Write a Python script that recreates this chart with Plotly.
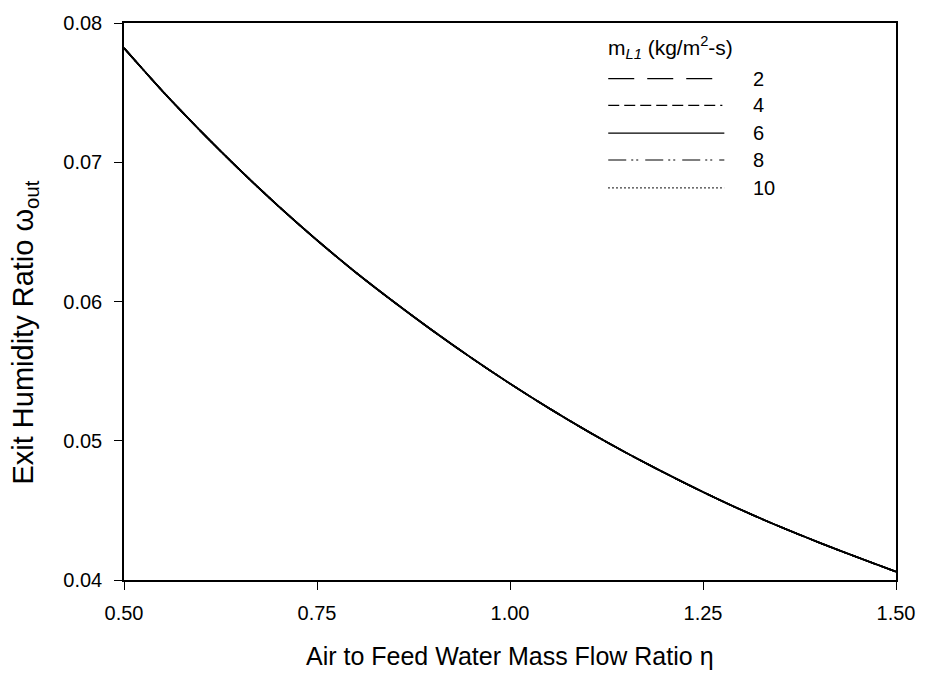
import plotly.graph_objects as go

# ---- data ----
eta = [0.50, 0.55, 0.60, 0.65, 0.70, 0.75, 0.80, 0.85, 0.90, 0.95, 1.00,
       1.05, 1.10, 1.15, 1.20, 1.25, 1.30, 1.35, 1.40, 1.45, 1.50]

omega_m2 = [0.07820, 0.07510, 0.07220, 0.06945, 0.06685, 0.06440, 0.06210, 0.05995, 0.05790, 0.05595, 0.05410,
            0.05235, 0.05070, 0.04915, 0.04770, 0.04632, 0.04502, 0.04382, 0.04270, 0.04163, 0.04060]
omega_m4 = [0.07820, 0.07510, 0.07220, 0.06945, 0.06685, 0.06440, 0.06210, 0.05995, 0.05790, 0.05595, 0.05410,
            0.05235, 0.05070, 0.04915, 0.04770, 0.04632, 0.04502, 0.04382, 0.04270, 0.04163, 0.04060]
omega_m6 = [0.07820, 0.07510, 0.07220, 0.06945, 0.06685, 0.06440, 0.06210, 0.05995, 0.05790, 0.05595, 0.05410,
            0.05235, 0.05070, 0.04915, 0.04770, 0.04632, 0.04502, 0.04382, 0.04270, 0.04163, 0.04060]
omega_m8 = [0.07820, 0.07510, 0.07220, 0.06945, 0.06685, 0.06440, 0.06210, 0.05995, 0.05790, 0.05595, 0.05410,
            0.05235, 0.05070, 0.04915, 0.04770, 0.04632, 0.04502, 0.04382, 0.04270, 0.04163, 0.04060]
omega_m10 = [0.07820, 0.07510, 0.07220, 0.06945, 0.06685, 0.06440, 0.06210, 0.05995, 0.05790, 0.05595, 0.05410,
             0.05235, 0.05070, 0.04915, 0.04770, 0.04632, 0.04502, 0.04382, 0.04270, 0.04163, 0.04060]

series_labels = ["2", "4", "6", "8", "10"]
series_values = [omega_m2, omega_m4, omega_m6, omega_m8, omega_m10]
series_dash = ["26px,13px", "11px,5px", "solid", "18px,5px,2px,3px,2px,7px", "1.5px,2.5px"]

x_ticks = [0.50, 0.75, 1.00, 1.25, 1.50]
x_ticktext = ["0.50", "0.75", "1.00", "1.25", "1.50"]
y_ticks = [0.04, 0.05, 0.06, 0.07, 0.08]
y_ticktext = ["0.04", "0.05", "0.06", "0.07", "0.08"]

FONT = "Liberation Sans, Arial, sans-serif"
W, H = 927, 679
ML, MR, MT, MB = 124, 25, 19, 99
PW, PH = W - ML - MR, H - MT - MB


def px2paper(px, py):
    return (px - ML) / PW, (H - MB - py) / PH


fig = go.Figure()
for lab, vals, dash in zip(series_labels, series_values, series_dash):
    fig.add_trace(go.Scatter(x=eta, y=vals, mode="lines", name=lab,
                             line=dict(color="black", width=1.6, dash=dash, shape="spline",
                                       smoothing=0.8),
                             showlegend=False))

# redraw solid series on top so the overlapping curve looks continuous
fig.add_trace(go.Scatter(x=eta, y=omega_m6, mode="lines", showlegend=False,
                         line=dict(color="black", width=1.7, shape="spline", smoothing=0.8),
                         hoverinfo="skip"))

# ---- legend drawn as key (shapes + text) ----
shapes = []
annotations = []
tx, ty = px2paper(610, 44)
annotations.append(dict(xref="paper", yref="paper", x=tx, y=ty, xanchor="left", yanchor="middle",
                        text="m<sub><i>L1</i></sub> (kg/m<sup>2</sup>-s)", showarrow=False,
                        font=dict(family=FONT, size=21, color="black")))
row_y = [75, 102, 130, 157, 185]
row_x1 = [718, 727, 729, 729, 729]
for lab, dash, yy, x1 in zip(series_labels, series_dash, row_y, row_x1):
    xa, ya = px2paper(612, yy)
    xb, _ = px2paper(x1, yy)
    shapes.append(dict(type="line", xref="paper", yref="paper", x0=xa, x1=xb, y0=ya, y1=ya,
                       line=dict(color="black", width=1.2, dash=dash)))
    lx, _ = px2paper(756, yy)
    annotations.append(dict(xref="paper", yref="paper", x=lx, y=ya, xanchor="left", yanchor="middle",
                            text=lab, showarrow=False,
                            font=dict(family=FONT, size=20, color="black")))

# y axis title as annotation
ax, ay = px2paper(24, 331)
annotations.append(dict(xref="paper", yref="paper", x=ax, y=ay, xanchor="center", yanchor="middle",
                        textangle=-90, showarrow=False,
                        text="Exit Humidity Ratio ω<sub>out</sub>",
                        font=dict(family=FONT, size=29, color="black")))

# x axis title as annotation
bx, by = px2paper(513, 657)
annotations.append(dict(xref="paper", yref="paper", x=bx, y=by, xanchor="center", yanchor="middle",
                        showarrow=False,
                        text="Air to Feed Water Mass Flow Ratio η",
                        font=dict(family=FONT, size=25, color="black")))

fig.update_layout(
    width=W, height=H,
    margin=dict(l=ML, r=MR, t=MT, b=MB, pad=0),
    paper_bgcolor="white", plot_bgcolor="white",
    font=dict(family=FONT, size=20, color="black"),
    shapes=shapes, annotations=annotations,
    showlegend=False,
)
fig.update_xaxes(range=[0.5, 1.5], tickvals=x_ticks, ticktext=x_ticktext,
                 showgrid=False, zeroline=False,
                 showline=True, linecolor="black", linewidth=1.5, mirror=True,
                 ticks="outside", ticklen=8, tickwidth=1.3, tickcolor="black",
                 tickfont=dict(family=FONT, size=20), ticklabelstandoff=6)
fig.update_yaxes(range=[0.04, 0.08], tickvals=y_ticks, ticktext=y_ticktext,
                 showgrid=False, zeroline=False,
                 showline=True, linecolor="black", linewidth=1.5, mirror=True,
                 ticks="outside", ticklen=8, tickwidth=1.3, tickcolor="black",
                 tickfont=dict(family=FONT, size=20), ticklabelstandoff=8)

fig.write_html("out.html")
